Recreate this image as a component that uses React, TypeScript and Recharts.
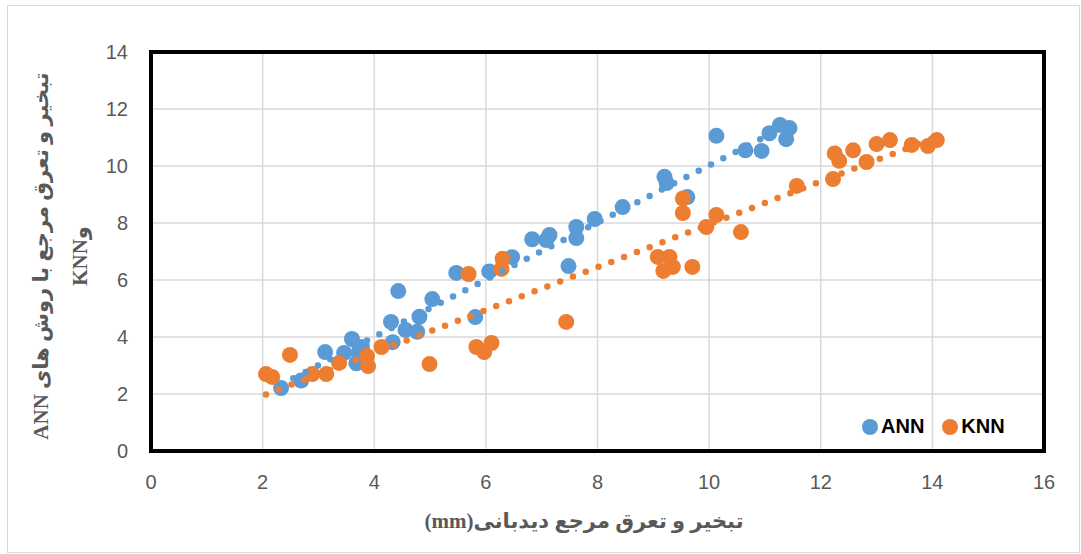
import { ScatterChart, Scatter, XAxis, YAxis, CartesianGrid, ReferenceArea } from "recharts"

// axis ticks
const xTicks = [0, 2, 4, 6, 8, 10, 12, 14, 16]
const yTicks = [0, 2, 4, 6, 8, 10, 12, 14]

// ANN: observed (mm) vs predicted
const annObserved = [
  2.33, 2.69, 3.12, 3.46, 3.6, 3.78, 3.68, 3.72, 4.33, 4.43, 4.3, 4.56, 4.77, 4.81, 5.04, 5.47, 5.81, 6.06,
  6.47, 6.83, 7.08, 7.14, 7.62, 7.62, 7.48, 7.95, 8.45, 9.2, 9.24, 9.61, 10.13, 10.65, 10.94, 11.08, 11.27,
  11.44, 11.38,
]
const annPredicted = [
  2.21, 2.47, 3.47, 3.44, 3.93, 3.65, 3.08, 3.45, 3.82, 5.61, 4.53, 4.25, 4.18, 4.71, 5.33, 6.25, 4.7, 6.3,
  6.8, 7.43, 7.4, 7.58, 7.86, 7.47, 6.49, 8.14, 8.56, 9.62, 9.4, 8.91, 11.06, 10.55, 10.53, 11.15, 11.44,
  11.33, 10.94,
]

// KNN: observed (mm) vs predicted
const knnObserved = [
  2.06, 2.17, 2.49, 2.89, 3.14, 3.37, 3.87, 3.89, 4.13, 4.99, 5.69, 5.83, 5.97, 6.1, 6.28, 6.3, 7.44, 9.08,
  9.29, 9.18, 9.35, 9.7, 9.53, 9.53, 9.95, 10.13, 10.57, 11.57, 12.22, 12.25, 12.33, 12.58, 12.82, 13.0,
  13.24, 13.63, 13.92, 14.08,
]
const knnPredicted = [
  2.7, 2.6, 3.37, 2.7, 2.7, 3.09, 3.33, 2.98, 3.65, 3.05, 6.21, 3.65, 3.47, 3.79, 6.39, 6.75, 4.53, 6.81,
  6.81, 6.32, 6.46, 6.46, 8.86, 8.35, 7.86, 8.28, 7.68, 9.3, 9.54, 10.44, 10.18, 10.55, 10.14, 10.77,
  10.91, 10.74, 10.7, 10.91,
]

const BLUE = "#5B9BD5"
const ORANGE = "#ED7D31"

const toPoints = (xs: number[], ys: number[]) => xs.map((x, i) => ({ x, y: ys[i] }))

// least-squares trendline across the data's x range (like Excel's linear trendline)
function trendline(xs: number[], ys: number[]) {
  const n = xs.length
  const mx = xs.reduce((a, b) => a + b, 0) / n
  const my = ys.reduce((a, b) => a + b, 0) / n
  let sxy = 0
  let sxx = 0
  xs.forEach((x, i) => {
    sxy += (x - mx) * (ys[i] - my)
    sxx += (x - mx) * (x - mx)
  })
  const slope = sxy / sxx
  const icpt = my - slope * mx
  const lo = Math.min(...xs)
  const hi = Math.max(...xs)
  return [
    { x: lo, y: icpt + slope * lo },
    { x: hi, y: icpt + slope * hi },
  ]
}

const annData = toPoints(annObserved, annPredicted)
const knnData = toPoints(knnObserved, knnPredicted)
const annTrend = trendline(annObserved, annPredicted)
const knnTrend = trendline(knnObserved, knnPredicted)

const dot = (color: string) => (props: any) => <circle cx={props.cx} cy={props.cy} r={8} fill={color} />
const noDot = () => <g />

const tickStyle = { fontSize: 20, fill: "#595959", fontFamily: "'Liberation Sans', Arial, sans-serif" }
const titleFont = "'Liberation Serif', 'DejaVu Sans', serif"

export default function App() {
  return (
    <div style={{ position: "absolute", left: 0, top: 0, width: 1081, height: 554, background: "#fff" }}>
      <div
        style={{
          position: "absolute",
          left: 7,
          top: 5,
          width: 1071,
          height: 546,
          border: "1.5px solid #D9D9D9",
        }}
      />
      <div style={{ position: "absolute", left: 0, top: 0 }}>
        <ScatterChart width={1081} height={554} margin={{ top: 52, right: 37, bottom: 53, left: 91 }}>
          <CartesianGrid stroke="#D9D9D9" strokeWidth={1.5} />
          <XAxis
            type="number"
            dataKey="x"
            domain={[0, 16]}
            ticks={xTicks}
            axisLine={false}
            tickLine={false}
            tickSize={8}
            tickMargin={16}
            height={50}
            tick={tickStyle}
          />
          <YAxis
            type="number"
            dataKey="y"
            domain={[0, 14]}
            ticks={yTicks}
            axisLine={false}
            tickLine={false}
            tickSize={8}
            tickMargin={15}
            width={60}
            tick={tickStyle}
          />
          <Scatter data={annData} fill={BLUE} shape={dot(BLUE)} isAnimationActive={false} />
          <Scatter data={knnData} fill={ORANGE} shape={dot(ORANGE)} isAnimationActive={false} />
          <Scatter
            data={annTrend}
            fill={BLUE}
            shape={noDot}
            line={{ stroke: BLUE, strokeWidth: 6.5, strokeDasharray: "0 13.8", strokeLinecap: "round" }}
            isAnimationActive={false}
          />
          <Scatter
            data={knnTrend}
            fill={ORANGE}
            shape={noDot}
            line={{ stroke: ORANGE, strokeWidth: 6.5, strokeDasharray: "0 13.7", strokeLinecap: "round" }}
            isAnimationActive={false}
          />
          <ReferenceArea x1={0} x2={16} y1={0} y2={14} fill="none" stroke="#000" strokeWidth={4} ifOverflow="visible" />
        </ScatterChart>
      </div>

      {/* axis titles */}
      <svg width={1081} height={554} style={{ position: "absolute", left: 0, top: 0, pointerEvents: "none" }}>
        <text
          x={584}
          y={528}
          textAnchor="middle"
          direction="rtl"
          fontFamily={titleFont}
          fontWeight="bold"
          fontSize={21}
          fill="#595959"
        >
          تبخیر و تعرق مرجع دیدبانی(mm)
        </text>
        <g transform="translate(48, 256) rotate(-90)">
          <text textAnchor="middle" direction="rtl" fontFamily={titleFont} fontWeight="bold" fontSize={21} fill="#595959">
            تبخیر و تعرق مرجع با روش های  ANN
          </text>
          <text y={39} textAnchor="middle" direction="rtl" fontFamily={titleFont} fontWeight="bold" fontSize={21} fill="#595959">
            وKNN
          </text>
        </g>
      </svg>

      {/* legend */}
      <div
        style={{
          position: "absolute",
          left: 862,
          top: 415,
          display: "flex",
          alignItems: "center",
          gap: 18,
          fontFamily: "'Liberation Sans', Arial, sans-serif",
          fontWeight: "bold",
          fontSize: 20,
          color: "#000",
        }}
      >
        {[
          { name: "ANN", color: BLUE },
          { name: "KNN", color: ORANGE },
        ].map((s) => (
          <div key={s.name} style={{ display: "flex", alignItems: "center", gap: 3 }}>
            <span style={{ width: 16, height: 16, borderRadius: 8, background: s.color, display: "inline-block" }} />
            <span>{s.name}</span>
          </div>
        ))}
      </div>
    </div>
  )
}
